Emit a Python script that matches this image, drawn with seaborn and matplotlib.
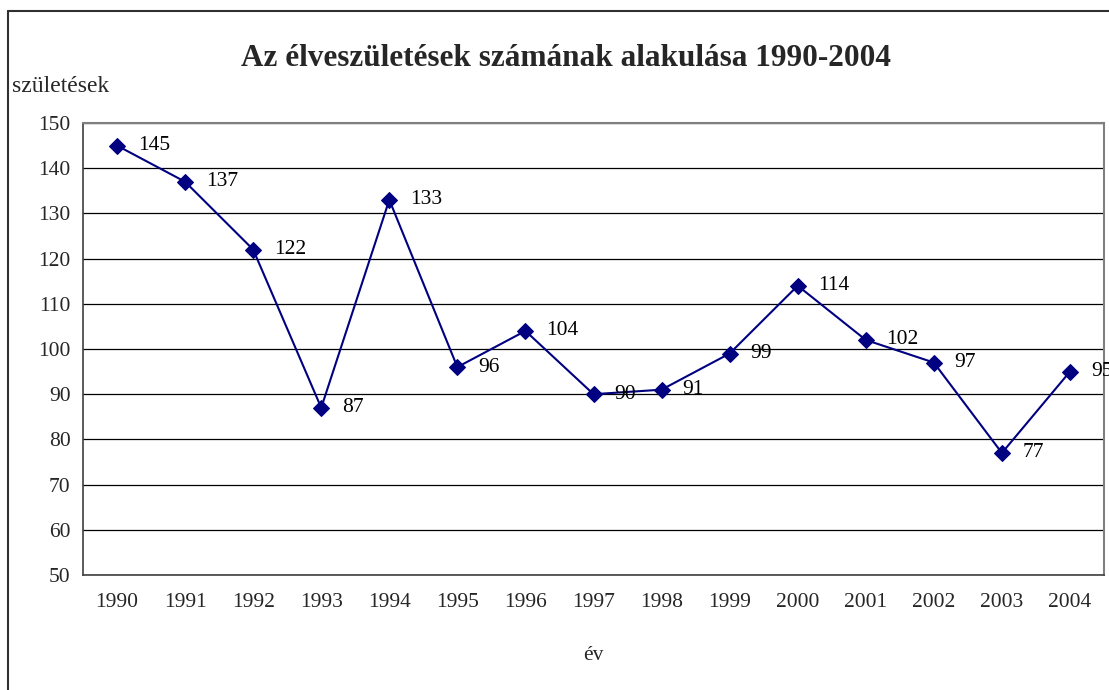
import matplotlib
matplotlib.use("Agg")
import matplotlib.pyplot as plt
import seaborn as sns
import pandas as pd
from matplotlib.lines import Line2D

years = ["1990", "1991", "1992", "1993", "1994", "1995", "1996", "1997",
         "1998", "1999", "2000", "2001", "2002", "2003", "2004"]
births = [145, 137, 122, 87, 133, 96, 104, 90, 91, 99, 114, 102, 97, 77, 95]
yticks = [50, 60, 70, 80, 90, 100, 110, 120, 130, 140, 150]

title = "Az élveszületések számának alakulása 1990-2004"
ylabel = "születések"
xlabel = "év"

sns.set_style("white")
plt.rcParams["font.family"] = ["Liberation Serif", "DejaVu Serif"]

fig = plt.figure(figsize=(11.09, 6.90), dpi=100)
W, H = 1109, 690
L, R, T, B = 83, 1104, 123, 575
ax = fig.add_axes([L / W, 1 - B / H, (R - L) / W, (B - T) / H])

df = pd.DataFrame({"x": list(range(len(years))), "y": births})
sns.lineplot(data=df, x="x", y="y", ax=ax, color="#000080", linewidth=1.5,
             marker="D", markersize=8, markeredgecolor="#000080",
             markerfacecolor="#000080")

for i, v in enumerate(births):
    ax.annotate(str(v), (i, v), xytext=(15, 0), textcoords="offset points",
                va="center", ha="left", fontsize=15.5, color="black",
                annotation_clip=False)

ax.set_xlim(-0.5, len(years) - 0.5)
ax.set_ylim(50, 150)
ax.set_yticks(yticks)
ax.set_yticklabels([str(t) for t in yticks], fontsize=15.5)
ax.set_xticks(range(len(years)))
ax.set_xticklabels(years, fontsize=15.5)
ax.set_xticks([i - 0.5 for i in range(len(years) + 1)], minor=True)
ax.tick_params(axis="x", which="major", length=0, pad=13)
ax.tick_params(axis="x", which="minor", length=5, width=1, color="#404040", direction="out")
ax.tick_params(axis="y", which="major", length=5, width=1, color="#404040", direction="out", pad=4)
ax.set_xlabel("")
ax.set_ylabel("")

ax.grid(axis="y", color="black", linewidth=0.9)
ax.set_axisbelow(True)
for s in ["left", "bottom"]:
    ax.spines[s].set_color("#404040")
    ax.spines[s].set_linewidth(1.2)
for s in ["top", "right"]:
    ax.spines[s].set_visible(True)
    ax.spines[s].set_color("#808080")
    ax.spines[s].set_linewidth(1.5)

fig.text(566 / W, 1 - 59 / H, title, ha="center", va="center",
         fontsize=22.5, fontweight="bold")
fig.text(12 / W, 1 - 87 / H, ylabel, ha="left", va="center", fontsize=17)
fig.text(593 / W, 1 - 655 / H, xlabel, ha="center", va="center", fontsize=15.5)

fig.add_artist(Line2D([8 / W, 8 / W], [0, 1 - 11 / H], color="#303030", linewidth=1.5,
                      transform=fig.transFigure))
fig.add_artist(Line2D([8 / W, 1], [1 - 11 / H, 1 - 11 / H], color="#303030", linewidth=1.5,
                      transform=fig.transFigure))

fig.savefig("out.png", dpi=100)
